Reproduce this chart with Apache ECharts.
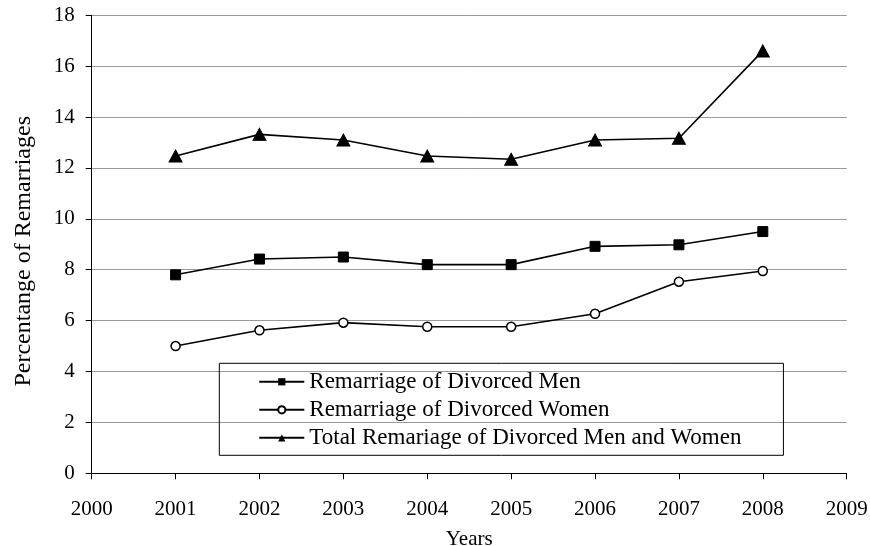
<!DOCTYPE html>
<html>
<head>
<meta charset="utf-8">
<script src="https://cdn.jsdelivr.net/npm/echarts@6/dist/echarts.min.js"></script>
<style>html,body{margin:0;padding:0;background:#fff}#c{width:870px;height:546px}</style>
</head>
<body>
<div id="c"></div>
<script>
var years = [2001, 2002, 2003, 2004, 2005, 2006, 2007, 2008];
var men = [7.8, 8.42, 8.5, 8.2, 8.2, 8.92, 8.98, 9.5];
var women = [5.0, 5.62, 5.92, 5.76, 5.76, 6.27, 7.53, 7.95];
var total = [12.47, 13.32, 13.1, 12.47, 12.34, 13.1, 13.17, 16.6];
var seriesNames = ['Remarriage of Divorced Men', 'Remarriage of Divorced Women', 'Total Remariage of Divorced Men and Women'];

function pairs(vals) { return years.map(function (y, i) { return [y, vals[i]]; }); }

var font = 'Liberation Serif, Times New Roman, serif';
var chart = echarts.init(document.getElementById('c'));
chart.setOption({
  animation: false,
  backgroundColor: '#fff',
  textStyle: { fontFamily: font, color: '#000' },
  grid: { left: 91.7, right: 23.3, top: 15.3, bottom: 72.7, outerBoundsMode: 'none', containLabel: false },
  legend: {
    orient: 'vertical',
    left: 219.3,
    top: 363.3,
    borderColor: '#000',
    borderWidth: 1,
    padding: [7, 42, 6, 39],
    itemWidth: 45,
    itemHeight: 9,
    itemGap: 5,
    textStyle: { fontFamily: font, fontSize: 23, color: '#000' },
    data: seriesNames
  },
  xAxis: {
    type: 'value',
    min: 2000, max: 2009, interval: 1,
    name: 'Years', nameLocation: 'middle', nameGap: 56,
    nameTextStyle: { fontFamily: font, fontSize: 21, color: '#000' },
    axisLine: { show: true, lineStyle: { color: '#000', width: 1 } },
    axisTick: { show: true, length: 6, lineStyle: { color: '#000' } },
    axisLabel: { fontFamily: font, fontSize: 21, color: '#000', margin: 26, formatter: function (v) { return String(v); } },
    splitLine: { show: false }
  },
  yAxis: {
    type: 'value',
    min: 0, max: 18, interval: 2,
    name: 'Percentange of Remarriages', nameLocation: 'middle', nameGap: 56,
    nameTextStyle: { fontFamily: font, fontSize: 24, color: '#000', padding: [0, 14, 0, 0] },
    axisLine: { show: true, lineStyle: { color: '#000', width: 1 } },
    axisTick: { show: true, length: 6, lineStyle: { color: '#000' } },
    axisLabel: { fontFamily: font, fontSize: 21, color: '#000', margin: 17 },
    splitLine: { show: true, lineStyle: { color: '#999', width: 1 } }
  },
  series: [
    {
      name: seriesNames[0], type: 'line', data: pairs(men),
      symbol: 'rect', symbolSize: 10,
      lineStyle: { color: '#000', width: 1.6 },
      itemStyle: { color: '#000', borderColor: '#000' }
    },
    {
      name: seriesNames[1], type: 'line', data: pairs(women),
      symbol: 'circle', symbolSize: 9,
      lineStyle: { color: '#000', width: 1.6 },
      itemStyle: { color: '#fff', borderColor: '#000', borderWidth: 1.5 }
    },
    {
      name: seriesNames[2], type: 'line', data: pairs(total),
      symbol: 'triangle', symbolSize: [13, 12],
      lineStyle: { color: '#000', width: 1.6 },
      itemStyle: { color: '#000', borderColor: '#000' }
    }
  ]
});
</script>
</body>
</html>
